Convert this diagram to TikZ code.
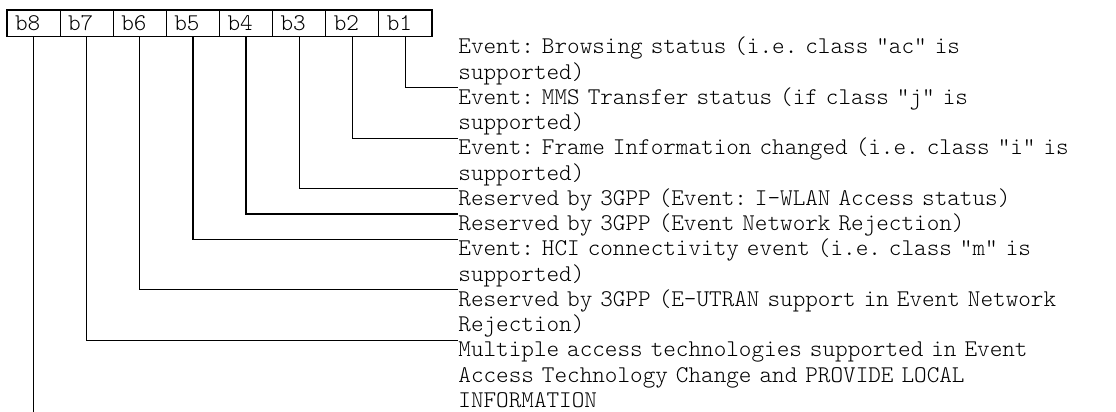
\documentclass[tikz,border=0pt]{standalone}
\usepackage{fontspec}
\setmonofont{Latin Modern Mono Light}
\usepackage{tikz}

\tikzset{
	bitcell/.style={draw, line width=0.6pt, minimum width=26.56pt, minimum height=13.35pt,
		inner xsep=4pt, inner ysep=0pt, text width=18.56pt, align=left},
	bitinfo/.style={anchor=north west, inner sep=0pt, text width=330pt, align=left, text height=8.5pt},
	bitline/.style={line width=0.6pt}
}

\begin{document}
\begin{tikzpicture}[x=0.5pt,y=-0.5pt,font=\ttfamily\fontsize{12pt}{12.625pt}\selectfont\frenchspacing]
				\useasboundingbox (0,0) rectangle (1116,412);
				
				% bit cells
				\foreach \b [count=\i] in {8,...,1}{
					\node[bitcell] (b\b) at ({7+(\i-0.5)*53.125},23.35) {b\b};
				}
				
				% descriptions
				\node[bitinfo, text depth=16.75pt] (d1) at (458,36.5)
					{Event: Browsing status (i.e. class "ac" is\\supported)};
				\node[bitinfo, text depth=16.75pt] (d2) at (458,87)
					{Event: MMS Transfer status (if class "j" is\\supported)};
				\node[bitinfo, text depth=16.75pt] (d3) at (458,137.5)
					{Event: Frame Information changed (i.e. class "i" is\\supported)};
				\node[bitinfo, text depth=4.125pt] (d4) at (458,188)
					{Reserved by 3GPP (Event: I-WLAN Access status)};
				\node[bitinfo, text depth=4.125pt] (d5) at (458,213.25)
					{Reserved by 3GPP (Event Network Rejection)};
				\node[bitinfo, text depth=16.75pt] (d6) at (458,238.5)
					{Event: HCI connectivity event (i.e. class "m" is\\supported)};
				\node[bitinfo, text depth=16.75pt] (d7) at (458,289)
					{Reserved by 3GPP (E-UTRAN support in Event Network\\Rejection)};
				\node[bitinfo, text depth=29.375pt] (d8) at (458,339.5)
					{Multiple access technologies supported in Event\\Access Technology Change and PROVIDE LOCAL\\INFORMATION};
				
				% leaders
				\foreach \b in {1,...,7}{
					\draw[bitline] (b\b.south) |- (d\b.south west);
				}
				\draw[bitline] (b8.south) -- (b8.south |- d8.south west);
\end{tikzpicture}
\end{document}
